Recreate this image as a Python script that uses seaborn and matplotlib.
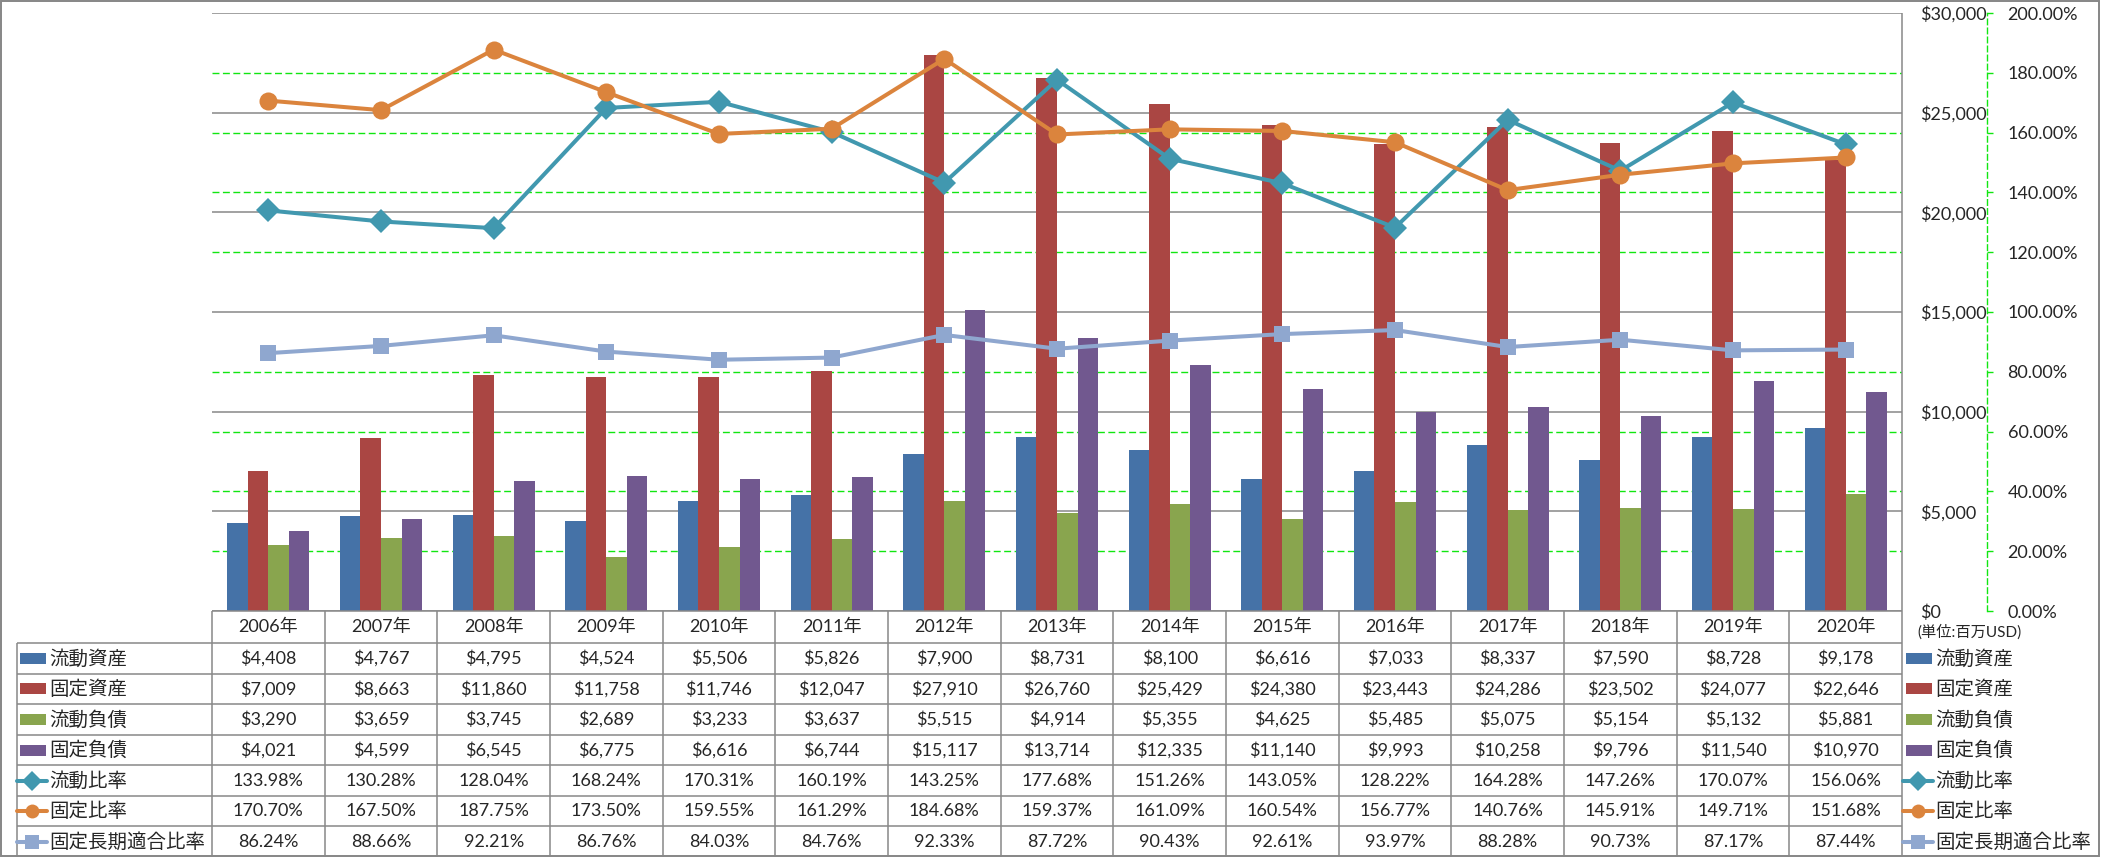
import numpy as np
import pandas as pd
import matplotlib
matplotlib.use("Agg")
import matplotlib.pyplot as plt
import seaborn as sns
from matplotlib.ticker import MultipleLocator, FuncFormatter
from matplotlib.lines import Line2D
from matplotlib.patches import Rectangle

# ---- data (百万USD / %) ----
years = ["2006年", "2007年", "2008年", "2009年", "2010年", "2011年", "2012年", "2013年",
         "2014年", "2015年", "2016年", "2017年", "2018年", "2019年", "2020年"]

current_assets = [4408, 4767, 4795, 4524, 5506, 5826, 7900, 8731, 8100, 6616, 7033, 8337, 7590, 8728, 9178]
fixed_assets = [7009, 8663, 11860, 11758, 11746, 12047, 27910, 26760, 25429, 24380, 23443, 24286, 23502, 24077, 22646]
current_liab = [3290, 3659, 3745, 2689, 3233, 3637, 5515, 4914, 5355, 4625, 5485, 5075, 5154, 5132, 5881]
fixed_liab = [4021, 4599, 6545, 6775, 6616, 6744, 15117, 13714, 12335, 11140, 9993, 10258, 9796, 11540, 10970]

current_ratio = [133.98, 130.28, 128.04, 168.24, 170.31, 160.19, 143.25, 177.68, 151.26, 143.05, 128.22, 164.28, 147.26, 170.07, 156.06]
fixed_ratio = [170.70, 167.50, 187.75, 173.50, 159.55, 161.29, 184.68, 159.37, 161.09, 160.54, 156.77, 140.76, 145.91, 149.71, 151.68]
fixed_lt_ratio = [86.24, 88.66, 92.21, 86.76, 84.03, 84.76, 92.33, 87.72, 90.43, 92.61, 93.97, 88.28, 90.73, 87.17, 87.44]

bar_names = ["流動資産", "固定資産", "流動負債", "固定負債"]
bar_values = [current_assets, fixed_assets, current_liab, fixed_liab]
bar_colors = ["#4572A7", "#AA4643", "#89A54E", "#71588F"]

line_names = ["流動比率", "固定比率", "固定長期適合比率"]
line_values = [current_ratio, fixed_ratio, fixed_lt_ratio]
line_colors = ["#4198AF", "#DB843D", "#8FA7CF"]
line_markers = ["D", "o", "s"]
line_msizes = [12, 13, 12]

unit_label = "(単位:百万USD)"

# ---- style ----
sns.set_style("white")
plt.rcParams["font.family"] = ["Lato", "Noto Sans CJK JP", "DejaVu Sans"]
GRID_GREEN = "#11E611"
GREY = "#888888"

W, H = 2101, 858
fig = plt.figure(figsize=(W / 100, H / 100), dpi=100)


def px_rect(x0, y0, x1, y1):
    return [x0 / W, 1 - y1 / H, (x1 - x0) / W, (y1 - y0) / H]


PL, PT, PR, PB = 212, 13, 1902, 611
ax = fig.add_axes(px_rect(PL, PT, PR, PB))

df = pd.DataFrame({"year": years})
for name, vals in zip(bar_names, bar_values):
    df[name] = vals
df = df.melt(id_vars="year", var_name="series", value_name="value")

sns.barplot(data=df, x="year", y="value", hue="series", order=years,
            hue_order=bar_names, palette=bar_colors, saturation=1,
            width=0.73, gap=0, errorbar=None, legend=False, linewidth=0,
            ax=ax, zorder=2)

ax.set_xlim(-0.5, len(years) - 0.5)
ax.set_ylim(0, 30000)
ax.yaxis.set_major_locator(MultipleLocator(5000))
ax.yaxis.set_minor_locator(MultipleLocator(3000))
ax.yaxis.set_major_formatter(FuncFormatter(lambda v, p: f"${v:,.0f}"))
ax.set_axisbelow(True)
ax.grid(False, axis="x")
ax.grid(True, which="major", axis="y", color=GREY, lw=1.1, ls="-")
ax.grid(True, which="minor", axis="y", color=GRID_GREEN, lw=1.0, ls=(0, (5, 2.5)))
ax.set_xlabel("")
ax.set_ylabel("")
for s in ax.spines.values():
    s.set_visible(False)

ax2 = ax.twinx()
ax.yaxis.tick_right()
ax.tick_params(axis="y", which="both", length=0, pad=13, labelsize=13)
ax.tick_params(axis="x", bottom=False, labelbottom=False)

xpos = np.arange(len(years))
for vals, color, mk, ms in zip(line_values, line_colors, line_markers, line_msizes):
    sns.lineplot(x=xpos, y=vals, ax=ax2, color=color, lw=2.9, marker=mk,
                 markersize=ms, markeredgewidth=0, markeredgecolor=color, zorder=3)

ax2.set_ylim(0, 200)
ax2.yaxis.set_major_locator(MultipleLocator(20))
ax2.yaxis.set_major_formatter(FuncFormatter(lambda v, p: f"{v:.2f}%"))
ax2.grid(False)
for side in ["left", "top", "bottom"]:
    ax2.spines[side].set_visible(False)
ax2.spines["right"].set_position(("outward", 61))
ax2.spines["right"].set_color(GRID_GREEN)
ax2.spines["right"].set_linestyle((0, (4, 2.5)))
ax2.spines["right"].set_linewidth(1.0)
ax2.tick_params(axis="y", length=4, width=1, color=GRID_GREEN, direction="out",
                pad=11, labelsize=13)
ax2.tick_params(axis="x", bottom=False, labelbottom=False)
ax2.set_ylabel("")
ax2.set_xlabel("")

# ---- data table below the plot ----
tab = fig.add_axes([0, 0, 1, 1])
tab.set_xlim(0, W)
tab.set_ylim(H, 0)
tab.axis("off")
tab.patch.set_visible(False)

col_edges = np.linspace(PL, PR, len(years) + 1)
col_mid = (col_edges[:-1] + col_edges[1:]) / 2
head_bottom = 643
row_h = (857 - head_bottom) / 7
row_edges = head_bottom + row_h * np.arange(8)
row_mid = row_edges[:-1] + row_h / 2

lkw = dict(color=GREY, lw=1.1, solid_capstyle="butt")
tab.plot([PL, PR], [PB, PB], **lkw)
for y in row_edges[:-1]:
    tab.plot([17, PR], [y, y], **lkw)
for x in col_edges[:-1]:
    tab.plot([x, x], [PB, 857], **lkw)
tab.plot([PR, PR], [PT, 857], **lkw)
tab.plot([17, 17], [head_bottom, 857], **lkw)
tab.add_patch(Rectangle((1, 1), W - 3, H - 3, fill=False, ec="#868686", lw=1.4))

for x, yr in zip(col_mid, years):
    tab.text(x, (PB + head_bottom) / 2, yr, ha="center", va="center", fontsize=13)

rows = [(n, v, c, None) for n, v, c in zip(bar_names, bar_values, bar_colors)]
rows += [(n, v, c, m) for n, v, c, m in zip(line_names, line_values, line_colors, line_markers)]

for (name, vals, color, mk), yc in zip(rows, row_mid):
    for x, v in zip(col_mid, vals):
        txt = f"{v:.2f}%" if mk else f"${v:,}"
        tab.text(x, yc, txt, ha="center", va="center", fontsize=13)
    for sx, tx in [(20, 49), (1906, 1935)]:
        if mk is None:
            tab.add_patch(Rectangle((sx, yc - 5.5), 26, 11, color=color, lw=0))
        else:
            tab.add_line(Line2D([sx - 3, sx + 27], [yc, yc], color=color, lw=2.9,
                                solid_capstyle="round"))
            tab.add_line(Line2D([sx + 12], [yc], color=color, lw=0,
                                marker=mk, markersize=10, mew=0))
        tab.text(tx, yc, name, ha="left", va="center", fontsize=14)

tab.text(1917, 632, unit_label, ha="left", va="center", fontsize=11)

fig.savefig("out.png", dpi=100)
